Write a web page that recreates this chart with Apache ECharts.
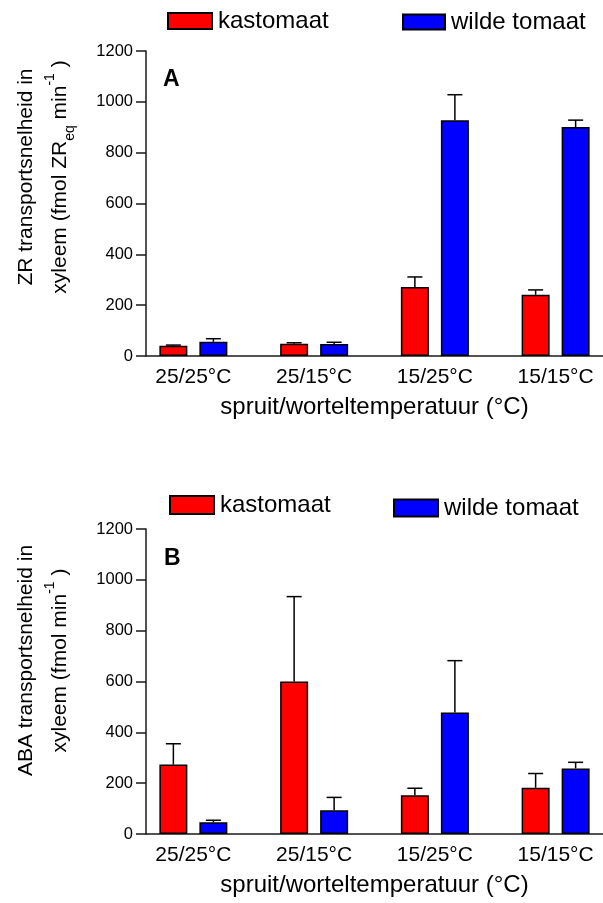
<!DOCTYPE html>
<html><head><meta charset="utf-8">
<script src="https://cdn.jsdelivr.net/npm/echarts@6/dist/echarts.min.js"></script>
<style>html,body{margin:0;padding:0;background:#fff}#c{width:603px;height:903px}</style>
</head><body><div id="c"></div>
<script>
// ---- data ----
const categories = ['25/25°C', '25/15°C', '15/25°C', '15/15°C'];
const seriesNames = ['kastomaat', 'wilde tomaat'];
const yTicks = [0, 200, 400, 600, 800, 1000, 1200];
// Panel A: ZR
const zrKas = [40, 48, 271, 241];
const zrKasErr = [3, 4, 40, 19];
const zrWild = [56, 47, 928, 901];
const zrWildErr = [12, 7, 100, 27];
// Panel B: ABA
const abaKas = [273, 600, 152, 182];
const abaKasErr = [82, 334, 28, 56];
const abaWild = [46, 93, 478, 258];
const abaWildErr = [8, 51, 204, 24];

// ---- style ----
const FONT = 'Liberation Sans, Arial, sans-serif';
const RED = '#ff0000', BLUE = '#0000ff';
const BAR_W = 28, BAR_GAP_PX = 12;
const OFFSET = (BAR_W + BAR_GAP_PX) / 2;
const CAP = 7.5;
const AX = '#1a1a1a';

function errRender(side) {
  return function (params, api) {
    const i = api.value(0);
    const base = api.coord([i, api.value(1)]);
    const top = api.coord([i, api.value(1) + api.value(2)]);
    const x = base[0] + side * OFFSET;
    return {
      type: 'group', children: [
        { type: 'line', shape: { x1: x, y1: base[1], x2: x, y2: top[1] }, style: { stroke: '#000', lineWidth: 1.5 } },
        { type: 'line', shape: { x1: x - CAP, y1: top[1], x2: x + CAP, y2: top[1] }, style: { stroke: '#000', lineWidth: 1.5 } }
      ]
    };
  };
}
function errData(vals, errs) { return vals.map((v, i) => [i, v, errs[i]]); }

const grids = [
  { left: 133, top: 51, width: 483, height: 305, outerBoundsMode: 'none' },
  { left: 146, top: 51, width: 457, height: 305, outerBoundsMode: 'none' },
  { left: 133, top: 529, width: 483, height: 305, outerBoundsMode: 'none' },
  { left: 146, top: 529, width: 457, height: 305, outerBoundsMode: 'none' }
];

function catAxis(g) {
  return {
    gridIndex: g, type: 'category', data: categories,
    axisLine: { show: false }, axisTick: { show: false },
    axisLabel: { fontSize: 21, fontFamily: FONT, color: '#000', margin: 11, interval: 0 }
  };
}
function lineXAxis(g) {
  return {
    gridIndex: g, type: 'value', min: 0, max: 1,
    axisLine: { show: true, lineStyle: { color: AX, width: 1.5 } },
    axisTick: { show: false }, axisLabel: { show: false }, splitLine: { show: false },
    name: 'spruit/worteltemperatuur (°C)', nameLocation: 'middle', nameGap: 39,
    nameTextStyle: { fontSize: 24, fontFamily: FONT, color: '#000' }
  };
}
const richStyles = {
  sub: { fontSize: 14, fontFamily: FONT, color: '#000', verticalAlign: 'bottom', lineHeight: 14 },
  sup: { fontSize: 14, fontFamily: FONT, color: '#000', verticalAlign: 'top', lineHeight: 14 }
};
function valYAxis(g, name, shift) {
  return {
    gridIndex: g, type: 'value', min: yTicks[0], max: yTicks[yTicks.length - 1], interval: 200,
    axisLine: { show: true, lineStyle: { color: AX, width: 1.5 } },
    axisTick: { show: true, length: 10, lineStyle: { color: AX, width: 1.5 } },
    axisLabel: { fontSize: 16.5, fontFamily: FONT, color: '#000', margin: 13, formatter: v => String(v) },
    splitLine: { show: false },
    name: name, nameLocation: 'middle', nameGap: 69, nameRotate: 90,
    nameTextStyle: { fontSize: 21, fontFamily: FONT, color: '#000', lineHeight: 34, padding: [0, 0, 0, shift], rich: richStyles }
  };
}
function hiddenY(g) {
  return { gridIndex: g, type: 'value', min: yTicks[0], max: yTicks[yTicks.length - 1], show: false };
}

function barSeries(name, data, color, xi) {
  return {
    type: 'bar', name: name, xAxisIndex: xi, yAxisIndex: xi, data: data,
    barWidth: BAR_W, barGap: (BAR_GAP_PX / BAR_W * 100) + '%', z: 3,
    itemStyle: { color: color, borderColor: '#000', borderWidth: 1.5 }
  };
}
function errSeries(name, vals, errs, side, xi) {
  return {
    type: 'custom', name: name + ' err', xAxisIndex: xi, yAxisIndex: xi, z: 2,
    renderItem: errRender(side), data: errData(vals, errs), silent: true
  };
}

function legendItem(name, left, top, w, h) {
  return {
    data: [name], left: left, top: top, padding: 0, itemWidth: w, itemHeight: h, itemGap: 0,
    selectedMode: false, icon: 'rect',
    textStyle: { fontSize: 24, fontFamily: FONT, color: '#000', padding: [0, 0, 0, 1] }
  };
}

const option = {
  animation: false,
  backgroundColor: '#fff',
  grid: grids,
  legend: [
    legendItem(seriesNames[0], 167, 9, 44, 16),
    legendItem(seriesNames[1], 402, 10, 42, 15),
    legendItem(seriesNames[0], 169, 493, 44, 18),
    legendItem(seriesNames[1], 393, 496, 44, 17)
  ],
  xAxis: [catAxis(0), lineXAxis(1), catAxis(2), lineXAxis(3)],
  yAxis: [
    hiddenY(0),
    valYAxis(1, 'ZR transportsnelheid in\nxyleem (fmol ZR{sub|eq} min{sup|-1} )', 53),
    hiddenY(2),
    valYAxis(3, 'ABA transportsnelheid in\nxyleem (fmol min{sup|-1} )', 42)
  ],
  graphic: [
    { type: 'text', left: 163, top: 68.5, style: { text: 'A', fontSize: 23, fontWeight: 'bold', fontFamily: FONT, fill: '#000' } },
    { type: 'text', left: 164, top: 547, style: { text: 'B', fontSize: 23, fontWeight: 'bold', fontFamily: FONT, fill: '#000' } }
  ],
  series: [
    barSeries(seriesNames[0], zrKas, RED, 0),
    barSeries(seriesNames[1], zrWild, BLUE, 0),
    errSeries(seriesNames[0], zrKas, zrKasErr, -1, 0),
    errSeries(seriesNames[1], zrWild, zrWildErr, 1, 0),
    barSeries(seriesNames[0], abaKas, RED, 2),
    barSeries(seriesNames[1], abaWild, BLUE, 2),
    errSeries(seriesNames[0], abaKas, abaKasErr, -1, 2),
    errSeries(seriesNames[1], abaWild, abaWildErr, 1, 2)
  ]
};
const chart = echarts.init(document.getElementById('c'), null, { renderer: 'canvas' });
chart.setOption(option);
</script>
</body></html>
